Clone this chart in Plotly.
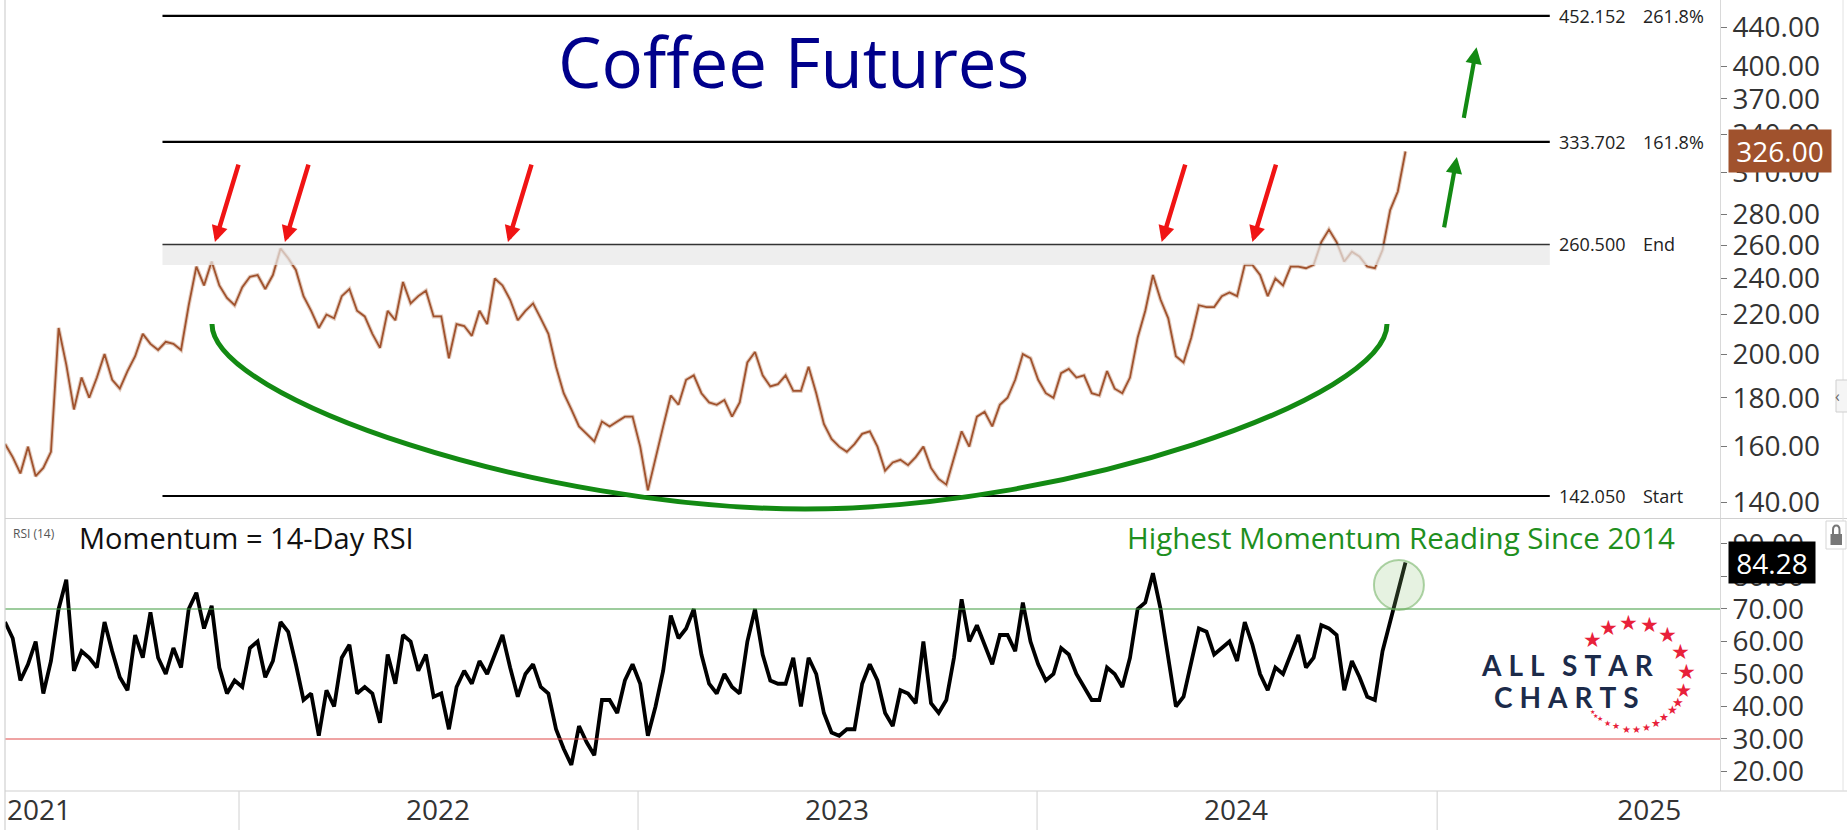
import numpy as np
import pandas as pd
import plotly.graph_objects as go

# ---- data -------------------------------------------------------------
# weekly closes of front-month coffee futures (cents/lb) and the 14-day RSI
dates = pd.date_range("2021-06-01", periods=184, freq="7D")

price = [
    161, 156, 150, 160, 149, 152, 158, 213, 195, 175,
    189, 180, 189, 200, 188, 184, 192, 199, 210, 205,
    202, 206, 205, 202, 225, 247, 236, 250, 236, 229,
    225, 235, 241, 242, 234, 242, 258, 252, 245, 230,
    222, 213, 220, 218, 230, 234, 222, 219, 210, 203,
    222, 217, 238, 226, 230, 233, 219, 219, 198, 215,
    214, 209, 222, 215, 240, 236, 228, 217, 222, 226,
    218, 210, 194, 182, 175, 168, 165, 162, 170, 168,
    170, 172, 172, 160, 144, 156, 168, 181, 177, 188,
    190, 182, 178, 177, 179, 172, 178, 196, 201, 190,
    185, 186, 190, 183, 183, 194, 182, 169, 163, 160,
    158, 161, 165, 166, 160, 151, 154, 155, 153, 156,
    160, 152, 148, 146, 156, 166, 160, 172, 174, 168,
    177, 180, 188, 200, 198, 188, 182, 180, 191, 193,
    189, 190, 182, 181, 192, 184, 182, 189, 208, 222,
    242, 228, 218, 199, 196, 208, 225, 224, 224, 230,
    232, 230, 248, 248, 242, 230, 240, 236, 247, 247,
    246, 248, 262, 270, 262, 250, 256, 253, 247, 246,
    257, 283, 296, 326,
]

rsi = [
    66, 61, 48, 53, 60, 44, 54, 70, 79, 51,
    57, 55, 52, 66, 57, 49, 45, 62, 55, 69,
    55, 50, 58, 52, 70, 75, 64, 71, 52, 44,
    48, 46, 58, 60, 49, 54, 66, 63, 53, 42,
    44, 31, 45, 40, 55, 59, 44, 46, 44, 35,
    56, 47, 62, 60, 51, 56, 43, 44, 33, 46,
    51, 47, 54, 50, 56, 62, 52, 43, 50, 53,
    46, 44, 33, 27, 22, 34, 29, 25, 42, 42,
    38, 48, 53, 47, 31, 40, 51, 68, 61, 64,
    70, 56, 47, 44, 50, 46, 44, 60, 70, 56,
    48, 47, 47, 55, 40, 55, 50, 38, 32, 31,
    33, 33, 47, 53, 48, 38, 34, 45, 44, 41,
    60, 41, 38, 42, 55, 73, 60, 65, 59, 53,
    62, 62, 57, 72, 60, 53, 48, 50, 58, 56,
    50, 46, 42, 42, 52, 50, 46, 55, 70, 72,
    81, 70, 55, 40, 43, 53, 64, 63, 56, 58,
    60, 54, 66, 59, 50, 45, 52, 50, 56, 62,
    52, 55, 65, 64, 62, 45, 54, 49, 43, 42,
    57, 66, 76, 84.28,
]

fib_levels = [142.050, 260.500, 333.702, 452.152]
fib_tags = ["Start", "End", "161.8%", "261.8%"]
fib_span = ["2021-10-23", "2025-04-14"]
zone = [248.0, 260.5]

price_ticks = [140, 160, 180, 200, 220, 240, 260, 280, 310, 340, 370, 400, 440]
rsi_ticks = [20, 30, 40, 50, 60, 70, 80, 90]
year_ticks = ["2021-07-02", "2022-07-02", "2023-07-02", "2024-07-01", "2025-07-14"]
year_text = ["2021", "2022", "2023", "2024", "2025"]
year_starts = ["2022-01-01", "2023-01-01", "2024-01-01", "2025-01-01"]

resistance_hits = ["2021-12-10", "2022-02-12", "2022-09-04", "2024-04-24", "2024-07-16"]
target_arrows = [("2025-01-19", 321.7), ("2025-02-06", 419.0)]

# ---- geometry helpers (plot area is 1715 x 791 px, offset 5 px left) ---
L, R, T, B = 5, 127, 0, 39
W, H = 1847, 830
PW, PH = W - L - R, H - T - B


def px_x(x):
    return (x - L) / PW


def px_y(y):
    return (PH - y) / PH


def pt(x, y):
    return f"{px_x(x):.5f},{px_y(y):.5f}"


ORIGIN = pd.Timestamp("2022-01-01")
x_range = [ORIGIN - pd.Timedelta(days=214.05), ORIGIN + pd.Timedelta(days=1354.7)]

FONT = "Open Sans"
BROWN = "#a0522d"
GREEN = "#138a13"
RED = "#f01414"

fig = go.Figure()

# price path: soft body + outline
fig.add_trace(go.Scatter(x=dates, y=price, mode="lines", xaxis="x", yaxis="y",
                         line=dict(color="rgba(190,140,110,0.45)", width=4),
                         hoverinfo="skip"))
fig.add_trace(go.Scatter(x=dates, y=price, mode="lines", xaxis="x", yaxis="y",
                         line=dict(color=BROWN, width=1.8), hoverinfo="skip"))

# resistance zone drawn over the price
fig.add_trace(go.Scatter(
    x=[fib_span[0], fib_span[1], fib_span[1], fib_span[0], fib_span[0]],
    y=[zone[0], zone[0], zone[1], zone[1], zone[0]],
    mode="lines", fill="toself", fillcolor="rgba(232,232,232,0.72)",
    line=dict(width=0), xaxis="x", yaxis="y", hoverinfo="skip"))

# fibonacci extension levels
for lvl in fib_levels:
    fig.add_trace(go.Scatter(
        x=fib_span, y=[lvl, lvl], mode="lines", xaxis="x", yaxis="y",
        line=dict(color="#333333" if lvl == 260.5 else "#000000",
                  width=1.5 if lvl == 260.5 else 2.2),
        hoverinfo="skip"))

# RSI
fig.add_trace(go.Scatter(x=dates, y=rsi, mode="lines", xaxis="x2", yaxis="y2",
                         line=dict(color="#000000", width=3.8), hoverinfo="skip"))

shapes = []
annotations = []

# overbought / oversold guides
shapes.append(dict(type="line", xref="paper", yref="y2", x0=0, x1=1, y0=70, y1=70,
                   line=dict(color="#3c9a3c", width=1.2)))
shapes.append(dict(type="line", xref="paper", yref="y2", x0=0, x1=1, y0=30, y1=30,
                   line=dict(color="#e04848", width=1.2)))

# pane frame lines
edge = px_x(W)
shapes += [
    dict(type="line", xref="paper", yref="paper", x0=0, x1=edge,
         y0=px_y(518.5), y1=px_y(518.5), line=dict(color="#d0d0d0", width=1.2)),
    dict(type="line", xref="paper", yref="paper", x0=0, x1=edge,
         y0=0, y1=0, line=dict(color="#d0d0d0", width=1.2)),
    dict(type="line", xref="paper", yref="paper", x0=0, x1=0,
         y0=px_y(H), y1=1, line=dict(color="#d0d0d0", width=1.2)),
    dict(type="line", xref="paper", yref="paper", x0=px_x(1843), x1=px_x(1843),
         y0=0, y1=1, line=dict(color="#e2e2e2", width=1)),
]
for ys in year_starts:
    shapes.append(dict(type="line", xref="x2", yref="paper", x0=ys, x1=ys,
                       y0=0, y1=px_y(H), line=dict(color="#d8d8d8", width=1.2)))

# rounded-bottom arc
arc = (f"M {pt(212, 324)} C {pt(212, 399)} {pt(540, 509)} {pt(805, 509)} "
       f"C {pt(1065, 509)} {pt(1387, 399)} {pt(1387, 324)}")
shapes.append(dict(type="path", xref="paper", yref="paper", path=arc,
                   line=dict(color=GREEN, width=5)))

# highlight of the latest RSI reading
shapes.append(dict(type="circle", xref="x2", yref="y2", xsizemode="pixel", ysizemode="pixel",
                   xanchor="2024-11-27", yanchor=77.4, x0=-25, x1=25, y0=-25, y1=25,
                   fillcolor="rgba(140,195,120,0.22)",
                   line=dict(color="rgba(110,175,95,0.55)", width=2)))

# side tab and lock glyph
shapes += [
    dict(type="rect", xref="paper", yref="paper", x0=px_x(1836), x1=px_x(1849),
         y0=px_y(412), y1=px_y(380), fillcolor="#f5f5f5", line=dict(color="#cfcfcf", width=1)),
    dict(type="rect", xref="paper", yref="paper", x0=px_x(1826), x1=px_x(1846),
         y0=px_y(549), y1=px_y(521), fillcolor="#ffffff", line=dict(color="#d5d5d5", width=1)),
    dict(type="rect", xref="paper", yref="paper", x0=px_x(1830.5), x1=px_x(1842),
         y0=px_y(545), y1=px_y(534), fillcolor="#777777", line=dict(width=0)),
    dict(type="path", xref="paper", yref="paper",
         path=f"M {pt(1833, 534)} L {pt(1833, 530)} C {pt(1833, 524)} {pt(1839.5, 524)} "
              f"{pt(1839.5, 530)} L {pt(1839.5, 534)}",
         line=dict(color="#777777", width=2)),
]
annotations.append(dict(xref="paper", yref="paper", x=px_x(1842), y=px_y(396), text="‹",
                        showarrow=False, font=dict(size=16, color="#666", family=FONT)))

# level labels
for lvl, tag in zip(fib_levels, fib_tags):
    for xpx, txt in ((1557, f"{lvl:.3f}"), (1641, tag)):
        annotations.append(dict(xref="paper", yref="y", x=px_x(xpx), y=np.log10(lvl),
                                xanchor="left", yanchor="middle", text=txt, showarrow=False,
                                font=dict(size=18, color="#222222", family=FONT)))

# resistance touches
for d in resistance_hits:
    annotations.append(dict(xref="x", yref="y", x=d, y=np.log10(262), text="",
                            showarrow=True, ax=24, ay=-79, arrowhead=2, arrowsize=0.72,
                            arrowwidth=4.5, arrowcolor=RED))

# upside targets
for d, p in target_arrows:
    annotations.append(dict(xref="x", yref="y", x=d, y=np.log10(p), text="",
                            showarrow=True, ax=-13, ay=72, arrowhead=2, arrowsize=0.78,
                            arrowwidth=4.2, arrowcolor=GREEN))

# last-value badges
annotations.append(dict(xref="paper", yref="y", x=px_x(1728), y=np.log10(price[-1]),
                        xanchor="left", yanchor="middle", text=f"{price[-1]:.2f}",
                        showarrow=False, bgcolor=BROWN, width=100, height=40,
                        font=dict(size=28, color="white", family=FONT)))
annotations.append(dict(xref="paper", yref="y2", x=px_x(1728), y=rsi[-1],
                        xanchor="left", yanchor="middle", text=f"{rsi[-1]:.2f}",
                        showarrow=False, bgcolor="#000000", width=84, height=39,
                        font=dict(size=28, color="white", family=FONT)))

# titles and notes
annotations += [
    dict(xref="paper", yref="paper", x=px_x(793), y=px_y(61), text="Coffee Futures",
         xanchor="center", yanchor="middle", showarrow=False,
         font=dict(size=69, color="#00008b", family=FONT)),
    dict(xref="paper", yref="paper", x=px_x(11), y=px_y(533), text="RSI (14)",
         xanchor="left", yanchor="middle", showarrow=False,
         font=dict(size=12, color="#555555", family=FONT)),
    dict(xref="paper", yref="paper", x=px_x(77), y=px_y(537), text="Momentum = 14-Day RSI",
         xanchor="left", yanchor="middle", showarrow=False,
         font=dict(size=29, color="#111111", family=FONT)),
    dict(xref="paper", yref="paper", x=px_x(1677), y=px_y(537),
         text="Highest Momentum Reading Since 2014",
         xanchor="right", yanchor="middle", showarrow=False,
         font=dict(size=29.5, color="#1e8f1e", family=FONT)),
]

# logo
spaced = "\u2009\u2009".join
annotations += [
    dict(xref="paper", yref="paper", x=px_x(1567), y=px_y(665),
         text="<b>" + spaced("ALL") + "\u2002\u2009" + spaced("STAR") + "</b>",
         xanchor="center", yanchor="middle", showarrow=False,
         font=dict(size=28, color="#1c2b4a", family="Lato")),
    dict(xref="paper", yref="paper", x=px_x(1566), y=px_y(697),
         text="<b>" + spaced("CHARTS") + "</b>",
         xanchor="center", yanchor="middle", showarrow=False,
         font=dict(size=28, color="#1c2b4a", family="Lato")),
]
stars = [
    (1592, 640, 21), (1608, 628, 21), (1628, 623, 21), (1649, 625, 21),
    (1667, 635, 21), (1680, 652, 21), (1686, 672, 21), (1683, 690, 19),
    (1678, 702, 13), (1672, 710, 12), (1664, 717, 11), (1656, 723, 11),
    (1646, 727, 10), (1636, 729, 10), (1626, 729, 10), (1616, 726, 9),
    (1607, 723, 8), (1600, 719, 7), (1595, 715, 6), (1592, 711, 6),
]
for sx, sy, ss in stars:
    annotations.append(dict(xref="paper", yref="paper", x=px_x(sx), y=px_y(sy), text="★",
                            showarrow=False, xanchor="center", yanchor="middle",
                            font=dict(size=ss, color="#e8213a", family="DejaVu Sans")))

axis_font = dict(size=28, color="#333333", family=FONT)

fig.update_layout(
    width=W, height=H,
    margin=dict(l=L, r=R, t=T, b=B),
    paper_bgcolor="white", plot_bgcolor="rgba(0,0,0,0)",
    showlegend=False, hovermode=False,
    font=dict(family=FONT),
    xaxis=dict(domain=[0, 1], range=x_range, anchor="y", showticklabels=False,
               showgrid=False, zeroline=False, showline=False, ticks=""),
    xaxis2=dict(domain=[0, 1], range=x_range, anchor="y2", showgrid=False, zeroline=False,
                showline=False, ticks="", tickvals=year_ticks, ticktext=year_text,
                tickfont=axis_font),
    yaxis=dict(domain=[0.3451, 1], type="log", range=[np.log10(134.7), np.log10(469.7)],
               side="right", anchor="x", tickvals=price_ticks,
               ticktext=[f"{v:.2f}" for v in price_ticks], showgrid=False, zeroline=False,
               ticks="outside", ticklen=6, tickcolor="#777777", showline=True,
               linecolor="#d9d9d9", tickfont=axis_font),
    yaxis2=dict(domain=[0, 0.3439], range=[14, 97.7], side="right", anchor="x2",
                tickvals=rsi_ticks, ticktext=[f"{v:.2f}" for v in rsi_ticks],
                showgrid=False, zeroline=False, ticks="outside", ticklen=6,
                tickcolor="#777777", showline=True, linecolor="#d9d9d9", tickfont=axis_font),
    shapes=shapes,
    annotations=annotations,
)

fig.write_html("out.html")
